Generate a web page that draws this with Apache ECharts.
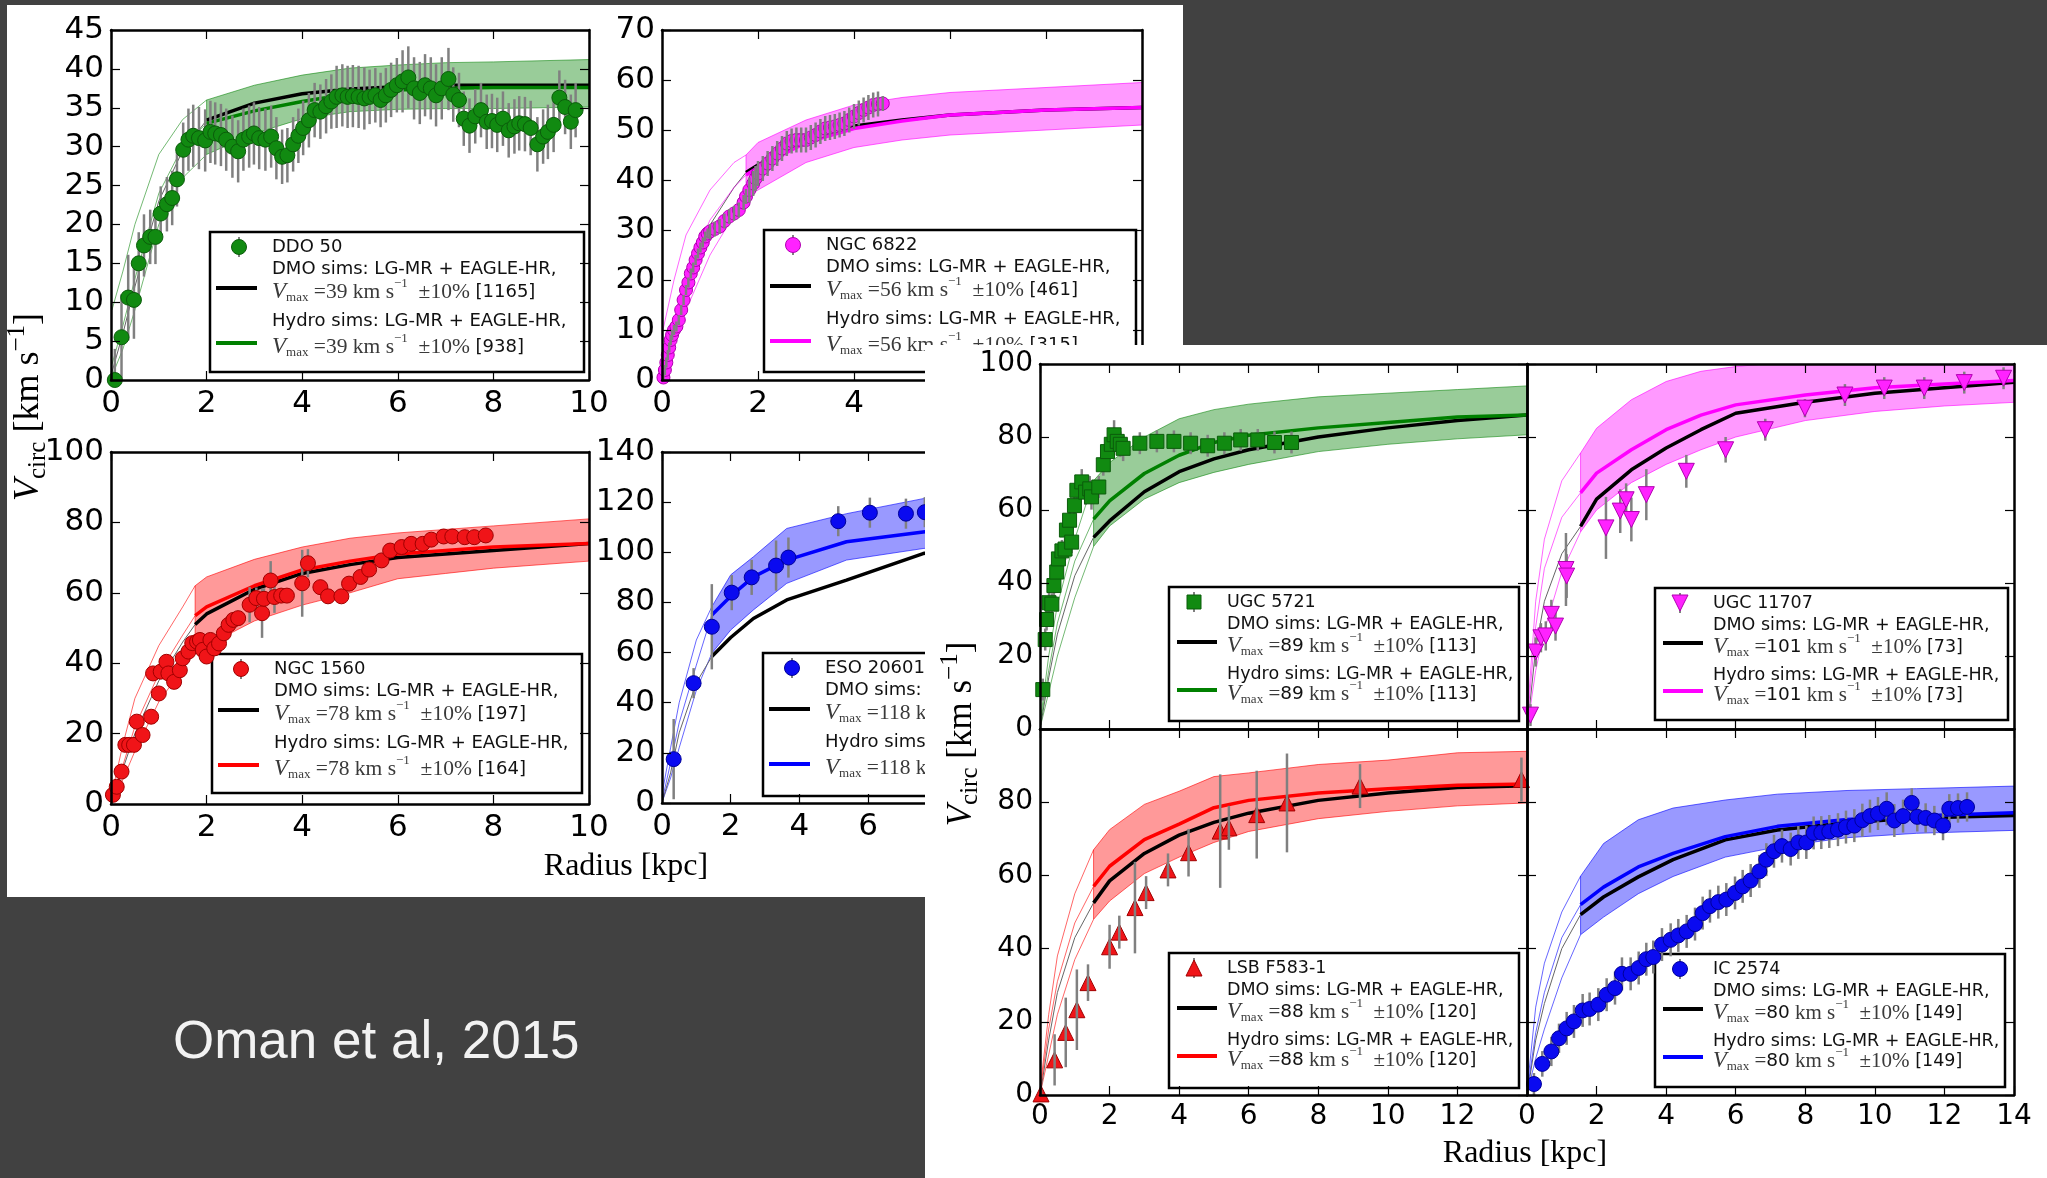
<!DOCTYPE html>
<html>
<head>
<meta charset="utf-8">
<title>Rotation curves of dwarf galaxies vs. simulations</title>
<script src="https://cdn.jsdelivr.net/npm/echarts@6/dist/echarts.min.js"></script>
<style>
  html, body { margin:0; padding:0; width:2047px; height:1178px; background:#414141; overflow:hidden; }
  #leftFig { position:absolute; left:7px; top:5px; width:1176px; height:892px; background:#fff; }
  #rightFig { position:absolute; left:925px; top:345px; width:1122px; height:833px; background:#fff; }
  #caption { position:absolute; left:173px; top:1013px; margin:0; font:53px/53px "Liberation Sans", Arial, sans-serif; color:#f2f2f2; white-space:nowrap; }
</style>
</head>
<body>
<div id="leftFig"></div>
<div id="rightFig"></div>
<div id="caption">Oman et al, 2015</div>
<script>
// ---------------- observed rotation curves: [radius kpc, Vcirc km/s, error] ----------------
const ddo50Pts = [[0.08,0,4],[0.22,5.5,5.5],[0.36,10.6,5.5],[0.48,10.3,5],[0.58,15,4],[0.69,17.3,4],[0.82,18.4,3.5],[0.93,18.4,3.5],[1.04,21.4,3.5],[1.17,22.6,3.5],[1.28,23.4,3.5],[1.38,25.8,3.5],[1.51,29.6,3.5],[1.62,30.9,4],[1.72,31.4,4],[1.84,31.1,4],[1.97,30.8,4],[2.08,31.9,4],[2.18,31.7,4],[2.30,31.5,4],[2.41,30.9,4],[2.54,30.0,4],[2.66,29.4,4],[2.77,30.9,4],[2.89,31.3,4],[2.99,31.7,4],[3.10,31.1,4],[3.23,30.9,4],[3.35,31.3,4],[3.46,29.8,4],[3.58,28.7,3.5],[3.69,28.9,3.5],[3.81,30.3,3.5],[3.92,31.4,3.5],[4.02,32.4,3.5],[4.14,33.4,3.5],[4.26,34.7,3.5],[4.38,34.5,3.5],[4.50,35.2,3.5],[4.61,35.8,3.5],[4.72,36.4,4],[4.84,36.6,4],[4.95,36.4,4],[5.06,36.5,4],[5.18,36.4,4],[5.30,36.2,4],[5.41,36.4,3.5],[5.53,36.6,3.5],[5.64,36.0,3.5],[5.75,36.6,3.5],[5.86,37.3,3.5],[5.98,37.9,3.5],[6.10,38.4,4],[6.22,38.9,4],[6.34,37.5,4],[6.46,36.9,4],[6.57,37.9,4],[6.69,37.5,4],[6.80,36.6,4],[6.92,37.5,4],[7.06,38.7,4],[7.16,36.7,3.5],[7.28,36.0,3.5],[7.38,33.6,3.5],[7.50,32.7,3.5],[7.62,33.9,3.5],[7.74,34.7,3.5],[7.86,33.2,3.5],[7.97,33.3,3.5],[8.08,32.8,3.5],[8.20,33.6,3.5],[8.32,32.1,3.5],[8.44,32.6,3.5],[8.54,33.0,3.5],[8.66,32.9,3.5],[8.78,32.4,3.5],[8.92,30.3,3.5],[9.04,31.3,3.5],[9.14,31.9,3.5],[9.26,32.8,3.5],[9.38,36.3,3.5],[9.50,35.1,3.5],[9.62,33.2,3.5],[9.72,34.7,3.5]];
const ngc6822Pts = [[0.03,0.5,1],[0.06,2,1],[0.09,3.5,1],[0.12,5,1],[0.15,6.5,1],[0.18,8,1],[0.21,9,1],[0.25,10,1],[0.3,10.7,1],[0.35,12,1],[0.4,14,1],[0.45,16,1],[0.5,18,1],[0.55,19.5,1],[0.6,21.3,1],[0.65,22.5,1],[0.7,24,1],[0.75,25.3,1],[0.8,26.5,1],[0.85,27.5,1],[0.9,28.7,1],[0.95,29.3,1],[1.0,29.7,1.5],[1.1,30.2,1.5],[1.2,30.7,1.5],[1.3,31.8,1.5],[1.4,32.7,1.5],[1.5,33.3,1.5],[1.6,34,1.5],[1.7,35.5,1.5],[1.75,36.7,1.5],[1.82,38,2.5],[1.9,39.3,2.5],[1.95,40.3,2.5],[2.0,41.3,2.5],[2.1,42.3,2.5],[2.2,43.3,2.5],[2.3,44.3,2.5],[2.4,45.3,2.5],[2.5,46.3,2.5],[2.6,47.3,2.5],[2.7,47.8,2.5],[2.8,48,2.5],[2.9,48,2.5],[3.0,48,2.5],[3.1,48.5,2.5],[3.2,49,2.5],[3.3,49.7,2.5],[3.4,50.3,2.5],[3.5,50.5,2.5],[3.6,50.7,2.5],[3.7,51,2.5],[3.8,51.3,2.5],[3.9,52,2.5],[4.0,52.7,2.5],[4.1,53.4,2.5],[4.2,54,2.5],[4.3,54.5,2.5],[4.4,55,2.5],[4.5,55.2,2.5],[4.6,55.3,1.5]];
const ngc1560Pts = [[0.04,2.6,1],[0.12,4.9,1],[0.22,9.2,1],[0.3,16.8,1],[0.38,16.8,1],[0.48,16.8,1],[0.54,23.4,1.5],[0.66,19.6,1.5],[0.84,24.8,1.5],[0.88,37.1,1.5],[1.0,31.4,1.5],[1.04,37.6,1.5],[1.16,40.4,1.5],[1.2,37.1,1.5],[1.32,34.7,1.5],[1.44,38,1.5],[1.5,41.4,1.5],[1.62,43.3,1.5],[1.7,45.7,1.5],[1.8,46.1,1.5],[1.86,46.6,1.5],[1.92,43.8,1.5],[2.0,41.9,1.5],[2.08,46.6,1.5],[2.16,44.2,1.5],[2.26,45.6,1.5],[2.36,48.5,1.5],[2.46,50.9,1.5],[2.56,52.3,1.5],[2.66,52.8,1.5],[2.9,56.6,5],[3.04,58.5,3],[3.16,54.2,7],[3.2,58.3,3],[3.34,63.5,5.5],[3.42,58.8,4.5],[3.56,59.2,2],[3.68,59.2,2],[4.0,62.7,9.5],[4.12,68.4,4],[4.38,61.6,2],[4.54,59,2],[4.82,59,2],[4.98,62.6,2],[5.22,64.5,2],[5.4,66.6,2],[5.66,69.2,2],[5.84,72,2],[6.08,73,2],[6.28,73.9,2],[6.52,73.9,2],[6.7,75.1,2],[6.96,76,2],[7.14,76,2],[7.4,75.8,2],[7.6,75.8,2],[7.84,76.3,2]];
const eso206Pts = [[0.34,17.5,16],[0.92,47.8,6],[1.45,70.3,17],[2.03,83.9,7],[2.61,90,7],[3.32,94.7,10],[3.68,97.9,8],[5.13,112.4,6],[6.05,115.8,6],[7.1,115.4,6],[7.65,116,6]];
const ugc5721Pts = [[0.08,10.8,3],[0.15,24.5,3],[0.19,30,3],[0.26,34.6,3],[0.34,34.2,3],[0.4,39.3,3],[0.48,43,3],[0.53,46.6,3],[0.63,48.8,3],[0.72,49.3,3],[0.76,54.5,3],[0.85,57.2,3],[0.91,51.2,3],[0.99,61.2,3],[1.06,65.4,3],[1.2,67.7,3.5],[1.31,64.9,3.5],[1.43,65.8,3.5],[1.48,63.6,3.5],[1.69,66.3,3],[1.82,72.4,3],[1.94,76,3.5],[2.05,78,3.5],[2.13,80.6,4],[2.22,78.8,3.5],[2.31,78,3.5],[2.39,76.9,3.5],[2.87,78.3,3],[3.36,78.8,3],[3.85,78.8,3],[4.33,78.3,3],[4.82,77.6,3],[5.3,78.3,3],[5.77,79.2,3],[6.26,79.2,3],[6.74,78.5,3],[7.23,78.5,3]];
const ugc11707Pts = [[0.1,3.8,3],[0.25,21.1,4],[0.4,25,4],[0.54,25.5,4],[0.7,31.4,4],[0.82,28.2,4],[1.12,43.7,10],[1.14,41.9,6],[2.27,55.1,8.5],[2.68,59.7,6],[2.85,62.8,4.5],[3.0,57.4,6],[3.43,64.2,7],[4.58,70.6,4.5],[5.71,76.5,3.5],[6.85,82,3],[7.99,87.9,2.5],[9.14,91.5,3],[10.27,93.4,3],[11.42,93.4,3],[12.57,94.9,3],[13.7,96.1,3]];
const lsbF583Pts = [[0.03,0.3,1],[0.42,9.6,7],[0.74,17.1,9.5],[1.06,23.3,11],[1.38,30.7,5],[2.0,40.5,6],[2.28,44.5,4.5],[2.73,51.2,12.5],[3.05,55.3,4.5],[3.68,61.5,4.5],[4.27,66.2,6.5],[5.18,72.1,15.5],[5.43,73,6],[6.23,76.6,12],[7.1,79.8,13.5],[9.2,84.4,6],[13.84,86.2,6]];
const ic2574Pts = [[0.2,3,3],[0.44,8.5,3.5],[0.7,11.9,4],[0.92,15.5,4],[1.14,18.2,4.5],[1.35,20.1,4.5],[1.6,23.1,4.5],[1.8,23.5,4.5],[2.05,24.7,4.5],[2.29,27.4,4.5],[2.53,29.2,4.5],[2.73,33.1,4.5],[2.98,33.1,4.5],[3.21,34.7,4.5],[3.43,37.1,4.5],[3.63,37.7,4.5],[3.88,41.1,4.5],[4.13,42.4,4.5],[4.35,43.6,4.5],[4.59,44.7,4.5],[4.83,46.7,4.5],[5.05,49.7,4.5],[5.26,51.6,4.5],[5.5,52.7,4.5],[5.73,53.4,4.5],[5.98,55.2,4.5],[6.2,57,4.5],[6.43,58.6,4.5],[6.68,61.1,4.5],[6.88,64.3,4.5],[7.1,66.6,4.5],[7.33,68,4.5],[7.58,67.2,4.5],[7.8,69,4.5],[8.03,69,4.5],[8.24,71.6,4.5],[8.46,71.7,4.5],[8.69,72,4.5],[8.94,72.5,4.5],[9.17,73.2,4.5],[9.41,73.6,4.5],[9.64,75.1,4.5],[9.86,76.2,4.5],[10.09,76.9,4.5],[10.34,78.2,4.5],[10.56,75,4.5],[10.81,76.2,4.5],[11.06,79.8,4],[11.22,76,4],[11.46,75.7,4],[11.71,75,4],[11.96,73.6,4],[12.14,78.2,4],[12.39,78.4,4],[12.65,78.7,4]];

// ---------------- simulated curves: radius grid, ±10% band, DMO and hydro medians ----------------
const ddo50R   = [0.02, 0.25, 0.5, 1, 1.5, 2, 3, 4, 5, 6, 7, 8, 10];
const ddo50Hi  = [9, 14, 20, 29, 33.5, 36, 37.9, 39.2, 40.1, 40.5, 40.8, 40.9, 41.2];
const ddo50Lo  = [0.5, 4, 9, 20, 26, 29, 31.7, 33.6, 34.5, 34.8, 34.9, 34.9, 35.1];
const ddo50Dmo = [1, 6, 12, 23, 29.5, 33.4, 35.6, 36.8, 37.4, 37.7, 37.9, 37.9, 37.9];
const ddo50Hyd = [2, 7, 13, 24, 30, 33.0, 34.6, 35.8, 36.8, 37.3, 37.5, 37.6, 37.6];
const ddo50Conv = 2;

const ngc6822R   = [0.02, 0.25, 0.5, 1, 1.5, 1.75, 2, 3, 4, 5, 6, 8, 10];
const ngc6822Hi  = [10, 20, 29, 38, 43.5, 45, 47.5, 52, 55, 56.5, 57.5, 58.5, 59.5];
const ngc6822Lo  = [0.5, 7, 14, 25, 33, 36.5, 38, 43.5, 46.5, 48, 49, 50, 51];
const ngc6822Dmo = [1, 10, 19, 31, 38.5, 41.5, 43, 48, 50.8, 52, 53, 54, 54.5];
const ngc6822Hyd = [3, 12, 21, 32, 38.5, 41, 42.5, 47.5, 50.3, 51.8, 53, 54, 54.5];
const ngc6822Conv = 1.75;

const ngc1560R   = [0.02, 0.25, 0.5, 1, 1.5, 1.76, 2, 3, 4, 5, 6, 7, 8, 10];
const ngc1560Hi  = [3, 17, 30, 45, 56, 62, 64.5, 69.5, 73, 75.5, 77, 78, 79, 81];
const ngc1560Lo  = [0.5, 7, 15, 29, 38.5, 43, 45, 52, 56.5, 60, 64, 65.5, 67, 69];
const ngc1560Dmo = [1, 10, 20, 35, 46, 51, 54, 61, 65.5, 68, 70, 71, 72, 74];
const ngc1560Hyd = [1.5, 11, 22, 37, 48, 53.5, 56, 62, 66.5, 69, 71, 72, 73, 74];
const ngc1560Conv = 1.76;

const eso206R   = [0.02, 0.25, 0.5, 1, 1.45, 2, 2.66, 3.63, 5.37, 7.6, 10, 14];
const eso206Hi  = [5, 22, 40, 65, 78.3, 91, 98.2, 109.5, 115.4, 121.4, 124, 127];
const eso206Lo  = [1, 10, 22, 45, 59.7, 69, 77, 87.6, 96.9, 101.5, 105, 108];
const eso206Dmo = [1, 12, 28, 48, 58.4, 66, 73.6, 81, 88.9, 99.5, 104, 110];
const eso206Hyd = [2, 16, 32, 55, 75, 82.5, 90.2, 96.9, 104.2, 108.1, 112, 115];
const eso206Conv = 1.45;

const ugc5721R   = [0.02, 0.25, 0.5, 1, 1.54, 2, 3, 4, 5, 6, 8, 10, 12, 14];
const ugc5721Hi  = [3, 20, 34, 52, 68, 73, 80, 85, 87.5, 89, 91, 92, 93, 94];
const ugc5721Lo  = [1, 10, 20, 36, 50, 55.6, 63, 67.5, 70.3, 72.5, 76, 78, 79.5, 80.6];
const ugc5721Dmo = [1, 14, 26, 42, 52.5, 57, 65, 70.5, 74, 76.5, 80, 82.5, 84.5, 86];
const ugc5721Hyd = [2, 16, 29, 46, 57.5, 62.5, 70, 75, 78.5, 80.5, 82.5, 84, 85.5, 86];
const ugc5721Conv = 1.54;

const ugc11707R   = [0.02, 0.25, 0.5, 1, 1.54, 2, 3, 4, 5, 6, 8, 10, 12, 14];
const ugc11707Hi  = [5, 35, 52, 68, 75.6, 82.4, 90.2, 95.2, 98, 99.3, 101, 102, 102.5, 103];
const ugc11707Lo  = [1, 16, 27, 43, 54, 60, 67.5, 72.5, 76.5, 80, 84.5, 87, 88.5, 89.5];
const ugc11707Dmo = [1, 22, 35, 48, 55.5, 63, 71, 77, 82, 86.5, 89.5, 92, 93.5, 95];
const ugc11707Hyd = [3, 28, 44, 58, 64.7, 70.1, 76.5, 82, 86, 88.8, 91.5, 93.5, 94.5, 95.5];
const ugc11707Conv = 1.54;

const lsbF583R   = [0.02, 0.25, 0.5, 1, 1.54, 2, 3, 4, 5, 6, 8, 10, 12, 14];
const lsbF583Hi  = [3, 22, 38, 55, 67, 72.5, 79.4, 83, 87, 88, 90.3, 91.5, 93.5, 93.9];
const lsbF583Lo  = [1, 11, 22, 37, 48, 53, 60.5, 65, 69, 72, 75.5, 77.5, 79, 79.8];
const lsbF583Dmo = [1, 15, 28, 43, 52.5, 58.5, 66, 71, 74.5, 77, 80.5, 82.5, 84, 84.5];
const lsbF583Hyd = [2, 18, 31, 47, 57, 62.5, 69.8, 74, 78.5, 80.5, 82.5, 83.7, 84.6, 85];
const lsbF583Conv = 1.54;

const ic2574R   = [0.02, 0.25, 0.5, 1, 1.54, 2.2, 3.2, 4.2, 5.7, 7.2, 9.2, 11.2, 14];
const ic2574Hi  = [3, 24, 36, 50, 59.8, 68.7, 75.2, 78.4, 80.6, 82.2, 83.2, 83.7, 84.4];
const ic2574Lo  = [1, 10, 18, 32, 43.8, 48.6, 55, 59.7, 65, 67.8, 70.3, 71.5, 72.3];
const ic2574Dmo = [1, 15, 25, 40, 49.3, 54.1, 59.6, 64.3, 69.7, 72.4, 74.4, 75.7, 76.4];
const ic2574Hyd = [2, 17, 28, 43, 52, 56.8, 62.3, 66, 70.6, 73.4, 75.3, 76.2, 77.1];
const ic2574Conv = 1.54;

// axis ranges: [min, max, step]
const ddo50XTicks = [0, 10, 2],   ddo50YTicks = [0, 45, 5];
const ngc6822XTicks = [0, 10, 2], ngc6822YTicks = [0, 70, 10];
const ngc1560XTicks = [0, 10, 2], ngc1560YTicks = [0, 100, 20];
const eso206XTicks = [0, 14, 2],  eso206YTicks = [0, 140, 20];
const rightXTicks = [0, 14, 2],   rightYTicks = [0, 100, 20];

// legend entries: name, Vmax, number of DMO haloes, number of hydro haloes
const ddo50Leg    = ['DDO 50', 39, 1165, 938];
const ngc6822Leg  = ['NGC 6822', 56, 461, 315];
const ngc1560Leg  = ['NGC 1560', 78, 197, 164];
const eso206Leg   = ['ESO 2060140', 118, 38, 35];
const ugc5721Leg  = ['UGC 5721', 89, 113, 113];
const ugc11707Leg = ['UGC 11707', 101, 73, 73];
const lsbF583Leg  = ['LSB F583-1', 88, 120, 120];
const ic2574Leg   = ['IC 2574', 80, 149, 149];

// ---------------- styling helpers ----------------
const SERIF = '"Liberation Serif", "DejaVu Serif", serif';
const SANS = '"DejaVu Sans", sans-serif';
const COL = {
  green:   {line:'#008000', fill:'rgba(0,128,0,0.4)',   edge:'rgba(0,128,0,0.55)',   mk:'#118a11', mkEdge:'#0b5c0b'},
  magenta: {line:'#ff00ff', fill:'rgba(255,0,255,0.4)', edge:'rgba(255,0,255,0.6)', mk:'#ff22ff', mkEdge:'#b000b0'},
  red:     {line:'#ff0000', fill:'rgba(255,0,0,0.4)',   edge:'rgba(255,0,0,0.6)',   mk:'#f01418', mkEdge:'#a00000'},
  blue:    {line:'#0000ff', fill:'rgba(0,0,255,0.4)',   edge:'rgba(0,0,255,0.6)',   mk:'#0a0af0', mkEdge:'#00009a'}
};

const measureCtx = document.createElement('canvas').getContext('2d');
function textWidth(t, font) { measureCtx.font = font; return measureCtx.measureText(t).width; }

function runEls(parts, x0, y0, color) {
  let x = x0; const els = [];
  parts.forEach(p => {
    els.push({type:'text', x: x, y: y0 + (p.dy || 0),
      style:{text:p.t, font:p.font, fill:p.color || color, align:'left', verticalAlign:'middle'}});
    x += textWidth(p.t, p.font);
  });
  return {els: els, width: x - x0};
}

function markerShape(kind, cx, cy, s, fill, stroke) {
  const st = {fill: fill, stroke: stroke, lineWidth: 1};
  const h = s / 2;
  if (kind === 'circle') return {type:'circle', shape:{cx:cx, cy:cy, r:h}, style:st};
  if (kind === 'rect') return {type:'rect', shape:{x:cx-h, y:cy-h, width:s, height:s}, style:st};
  if (kind === 'up') return {type:'polygon', shape:{points:[[cx,cy-h],[cx+h,cy+h],[cx-h,cy+h]]}, style:st};
  return {type:'polygon', shape:{points:[[cx,cy+h],[cx+h,cy-h],[cx-h,cy-h]]}, style:st};
}

function vmaxParts(vmax, n, fs, sansNum) {
  const big = (fs + 3.5) + 'px ' + SERIF;
  const sub = Math.round(fs * 0.72) + 'px ' + SERIF;
  return [
    {t:'V', font:'italic ' + (fs + 5) + 'px ' + SERIF},
    {t:'max', font:sub, dy:6},
    {t:' =', font:big},
    sansNum ? {t:String(vmax), font:(fs + 1) + 'px ' + SANS, color:'#111'} : {t:String(vmax), font:big},
    {t:' km s', font:big},
    {t:'\u22121', font:sub, dy:-8},
    {t:'  \u00b110%', font:big},
    {t:' [' + n + ']', font:fs + 'px ' + SANS, color:'#111'}
  ];
}

function legendBox(x, y, w, h, leg, style, col, L) {
  const ch = [];
  ch.push({type:'rect', shape:{x:0, y:0, width:w, height:h}, style:{fill:'#fff', stroke:'#000', lineWidth:2.5}});
  const sf = L.fs + 'px ' + SANS;
  const r = L.rows;
  ch.push({type:'line', shape:{x1:L.mx, y1:r[0]-10, x2:L.mx, y2:r[0]+10}, style:{stroke:'#808080', lineWidth:2}});
  ch.push(markerShape(style.marker, L.mx, r[0], style.size, col.mk, col.mkEdge));
  const t = (yy, s) => ({type:'text', x:L.tx, y:yy, style:{text:s, font:sf, fill:'#111', align:'left', verticalAlign:'middle'}});
  ch.push(t(r[0], leg[0]));
  ch.push(t(r[1], 'DMO sims: LG-MR + EAGLE-HR,'));
  runEls(vmaxParts(leg[1], leg[2], L.fs, L.sansNum), L.tx, r[2], '#3a3a3a').els.forEach(e => ch.push(e));
  ch.push({type:'line', shape:{x1:L.lx0, y1:r[2]-4, x2:L.lx1, y2:r[2]-4}, style:{stroke:'#000', lineWidth:4}});
  ch.push(t(r[3], 'Hydro sims: LG-MR + EAGLE-HR,'));
  runEls(vmaxParts(leg[1], leg[3], L.fs, L.sansNum), L.tx, r[4], '#3a3a3a').els.forEach(e => ch.push(e));
  ch.push({type:'line', shape:{x1:L.lx0, y1:r[4]-4, x2:L.lx1, y2:r[4]-4}, style:{stroke:col.line, lineWidth:4}});
  return {type:'group', x:x, y:y, z:100, children:ch};
}

function vcircLabel(cx, cy, fs) {
  const sub = Math.round(fs * 0.7);
  const parts = [
    {t:'V', font:'italic ' + fs + 'px ' + SERIF},
    {t:'circ', font:sub + 'px ' + SERIF, dy: fs * 0.25},
    {t:' [km s', font:fs + 'px ' + SERIF},
    {t:'\u22121', font:sub + 'px ' + SERIF, dy: -fs * 0.33},
    {t:']', font:fs + 'px ' + SERIF}
  ];
  const w = runEls(parts, 0, 0, '#000').width;
  const res = runEls(parts, -w / 2, 0, '#000');
  return {type:'group', x:cx, y:cy, rotation:Math.PI / 2, z:100, children:res.els};
}

function radiusLabel(cx, cy, fs) {
  return {type:'text', x:cx, y:cy, z:100,
    style:{text:'Radius [kpc]', font:fs + 'px ' + SERIF, fill:'#000', align:'center', verticalAlign:'middle'}};
}

// ---------------- axes and series builders ----------------
function buildAxes(grids, fs) {
  const xAxis = [], yAxis = [];
  grids.forEach((g, gi) => {
    const base = () => ({
      gridIndex: gi, type:'value', z:10, splitLine:{show:false},
      axisLine:{show:true, onZero:false, lineStyle:{color:'#000', width:2.5}},
      axisTick:{show:true, inside:true, length:9, lineStyle:{color:'#000', width:1.2}}
    });
    const lab = (show, hideMax, margin) => ({show:show, fontSize:fs, fontFamily:'DejaVu Sans', color:'#000',
      margin:margin, showMinLabel:true, showMaxLabel:!hideMax});
    xAxis.push(Object.assign(base(), {position:'bottom', min:g.x[0], max:g.x[1], interval:g.x[2], axisLabel:lab(g.xLab, g.hideXMax, 8)}));
    xAxis.push(Object.assign(base(), {position:'top', min:g.x[0], max:g.x[1], interval:g.x[2], axisLabel:{show:false}}));
    yAxis.push(Object.assign(base(), {position:'left', min:g.y[0], max:g.y[1], interval:g.y[2], axisLabel:lab(g.yLab, g.hideYMax, 7)}));
    yAxis.push(Object.assign(base(), {position:'right', min:g.y[0], max:g.y[1], interval:g.y[2], axisLabel:{show:false}}));
  });
  return {xAxis, yAxis};
}

function panelSeries(gi, m, pts, style, col) {
  const xi = 2 * gi, yi = 2 * gi;
  const idx = m.R.map((r, i) => i);
  const thick = idx.filter(i => m.R[i] >= m.conv);
  const thin = idx.filter(i => m.R[i] <= m.conv);
  const pairs = (arr, sel) => sel.map(i => [m.R[i], arr[i]]);
  const line = (data, color, width, z) => ({type:'line', xAxisIndex:xi, yAxisIndex:yi, data:data, symbol:'none',
    showSymbol:false, clip:true, silent:true, z:z, lineStyle:{color:color, width:width}});
  const out = [];
  // ±10% band of the simulated curves, outside the convergence radius
  out.push({type:'custom', xAxisIndex:xi, yAxisIndex:yi, clip:true, silent:true, z:1,
    data:[[m.R[thick[0]], m.lo[thick[0]]]],
    renderItem: (params, api) => {
      const up = thick.map(i => api.coord([m.R[i], m.hi[i]]));
      const dn = thick.slice().reverse().map(i => api.coord([m.R[i], m.lo[i]]));
      return {type:'polygon', shape:{points:up.concat(dn)}, style:{fill:col.fill, stroke:col.edge, lineWidth:1}};
    }});
  // thin continuation inside the convergence radius
  out.push(line(pairs(m.hi, thin), col.edge, 1, 2));
  out.push(line(pairs(m.lo, thin), col.edge, 1, 2));
  out.push(line(pairs(m.dmo, thin), '#666', 1, 2));
  out.push(line(pairs(m.hyd, thin), col.edge, 1, 2));
  // medians
  out.push(line(pairs(m.dmo, thick), '#000', 3.5, 3));
  out.push(line(pairs(m.hyd, thick), col.line, 3.5, 3));
  // observed points and their error bars
  const barsZ = style.barsOnTop ? 5 : 3.5;
  out.push({type:'scatter', xAxisIndex:xi, yAxisIndex:yi, data:pts, encode:{x:0, y:1}, clip:true, silent:true, z:4,
    symbol: style.marker === 'circle' ? 'circle' : style.marker === 'rect' ? 'rect' : 'triangle',
    symbolRotate: style.marker === 'down' ? 180 : 0, symbolSize: style.size,
    itemStyle:{color:col.mk, borderColor:col.mkEdge, borderWidth:1, opacity:1}});
  out.push({type:'custom', xAxisIndex:xi, yAxisIndex:yi, data:pts, encode:{x:0, y:1}, clip:true, silent:true, z:barsZ,
    renderItem: (params, api) => {
      const x = api.value(0), y = api.value(1), e = api.value(2);
      const a = api.coord([x, y - e]), b = api.coord([x, y + e]);
      return {type:'line', shape:{x1:a[0], y1:a[1], x2:b[0], y2:b[1]}, style:{stroke:'#808080', lineWidth:2.5}};
    }});
  return out;
}

const model = (R, hi, lo, dmo, hyd, conv) => ({R, hi, lo, dmo, hyd, conv});

// ---------------- left figure ----------------
(function () {
  const grids = [
    {left:104, top:25,  width:478, height:350, x:ddo50XTicks,   y:ddo50YTicks,   xLab:true, yLab:true},
    {left:655, top:25,  width:480, height:350, x:ngc6822XTicks, y:ngc6822YTicks, xLab:true, yLab:true},
    {left:104, top:447, width:478, height:352, x:ngc1560XTicks, y:ngc1560YTicks, xLab:true, yLab:true},
    {left:655, top:447, width:481, height:351, x:eso206XTicks,  y:eso206YTicks,  xLab:true, yLab:true}
  ];
  const ax = buildAxes(grids, 31);
  const L = {fs:18, rows:[15, 37, 60, 89, 115], mx:29, tx:62, lx0:6, lx1:47, sansNum:false};
  const sCirc = {marker:'circle', size:15};
  const series = [].concat(
    panelSeries(0, model(ddo50R, ddo50Hi, ddo50Lo, ddo50Dmo, ddo50Hyd, ddo50Conv), ddo50Pts, sCirc, COL.green),
    panelSeries(1, model(ngc6822R, ngc6822Hi, ngc6822Lo, ngc6822Dmo, ngc6822Hyd, ngc6822Conv), ngc6822Pts, {marker:'circle', size:13, barsOnTop:true}, COL.magenta),
    panelSeries(2, model(ngc1560R, ngc1560Hi, ngc1560Lo, ngc1560Dmo, ngc1560Hyd, ngc1560Conv), ngc1560Pts, sCirc, COL.red),
    panelSeries(3, model(eso206R, eso206Hi, eso206Lo, eso206Dmo, eso206Hyd, eso206Conv), eso206Pts, sCirc, COL.blue)
  );
  const chart = echarts.init(document.getElementById('leftFig'), null, {renderer:'canvas'});
  chart.setOption({
    animation:false,
    backgroundColor:'#fff',
    grid: grids.map(g => ({left:g.left, top:g.top, width:g.width, height:g.height, containLabel:false, outerBoundsMode:'none'})),
    xAxis: ax.xAxis, yAxis: ax.yAxis, series: series,
    graphic: {elements: [
      legendBox(203, 227, 374, 140, ddo50Leg, sCirc, COL.green, L),
      legendBox(757, 225, 372, 142, ngc6822Leg, sCirc, COL.magenta, L),
      legendBox(205, 649, 370, 139, ngc1560Leg, sCirc, COL.red, L),
      legendBox(756, 648, 372, 143, eso206Leg, sCirc, COL.blue, L),
      vcircLabel(22, 402, 36),
      radiusLabel(619, 862, 32)
    ]}
  });
})();

// ---------------- right figure ----------------
(function () {
  const grids = [
    {left:115, top:19,  width:487, height:365, x:rightXTicks, y:rightYTicks, xLab:false, yLab:true},
    {left:602, top:19,  width:487, height:365, x:rightXTicks, y:rightYTicks, xLab:false, yLab:false},
    {left:115, top:384, width:487, height:366, x:rightXTicks, y:rightYTicks, xLab:true,  yLab:true, hideXMax:true, hideYMax:true},
    {left:602, top:384, width:487, height:366, x:rightXTicks, y:rightYTicks, xLab:true,  yLab:false}
  ];
  const ax = buildAxes(grids, 28);
  const L = {fs:17.5, rows:[15, 37, 59, 87, 107], mx:25, tx:58, lx0:8, lx1:48, sansNum:true};
  const sRect = {marker:'rect', size:14}, sDown = {marker:'down', size:16}, sUp = {marker:'up', size:16, barsOnTop:true}, sCirc = {marker:'circle', size:15};
  const series = [].concat(
    panelSeries(0, model(ugc5721R, ugc5721Hi, ugc5721Lo, ugc5721Dmo, ugc5721Hyd, ugc5721Conv), ugc5721Pts, sRect, COL.green),
    panelSeries(1, model(ugc11707R, ugc11707Hi, ugc11707Lo, ugc11707Dmo, ugc11707Hyd, ugc11707Conv), ugc11707Pts, sDown, COL.magenta),
    panelSeries(2, model(lsbF583R, lsbF583Hi, lsbF583Lo, lsbF583Dmo, lsbF583Hyd, lsbF583Conv), lsbF583Pts, sUp, COL.red),
    panelSeries(3, model(ic2574R, ic2574Hi, ic2574Lo, ic2574Dmo, ic2574Hyd, ic2574Conv), ic2574Pts, sCirc, COL.blue)
  );
  const chart = echarts.init(document.getElementById('rightFig'), null, {renderer:'canvas'});
  chart.setOption({
    animation:false,
    backgroundColor:'#fff',
    grid: grids.map(g => ({left:g.left, top:g.top, width:g.width, height:g.height, containLabel:false, outerBoundsMode:'none'})),
    xAxis: ax.xAxis, yAxis: ax.yAxis, series: series,
    graphic: {elements: [
      legendBox(244, 242, 350, 134, ugc5721Leg, sRect, COL.green, L),
      legendBox(730, 243, 353, 132, ugc11707Leg, sDown, COL.magenta, L),
      legendBox(244, 608, 350, 135, lsbF583Leg, sUp, COL.red, L),
      legendBox(730, 609, 350, 133, ic2574Leg, sCirc, COL.blue, L),
      vcircLabel(37, 389, 35),
      radiusLabel(600, 809, 32)
    ]}
  });
})();
</script>
</body>
</html>
